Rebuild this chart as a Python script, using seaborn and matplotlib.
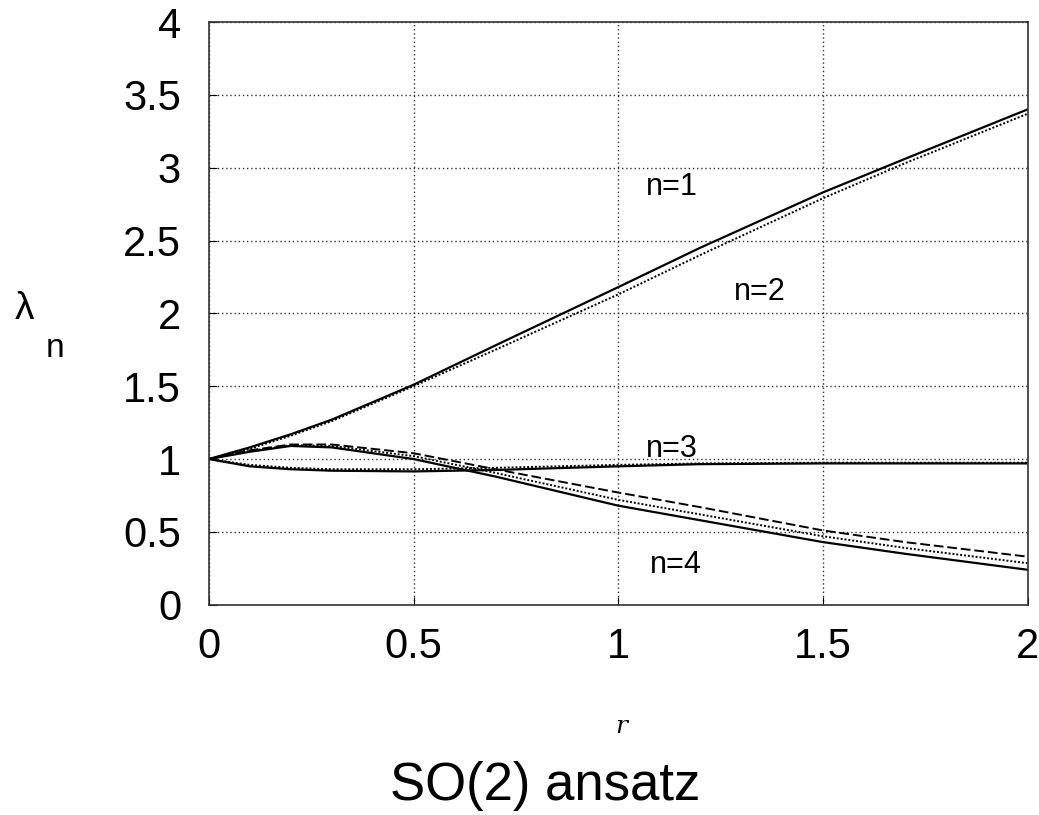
import matplotlib
matplotlib.use("Agg")
import matplotlib.pyplot as plt
import seaborn as sns
import pandas as pd

# values
r = [0, 0.1, 0.2, 0.3, 0.5, 0.7, 1.0, 1.2, 1.5, 1.7, 2.0]
lam_n1 = [1.0, 1.08, 1.17, 1.27, 1.51, 1.78, 2.18, 2.45, 2.83, 3.06, 3.40]
lam_n2 = [1.0, 1.07, 1.16, 1.26, 1.50, 1.75, 2.13, 2.40, 2.79, 3.03, 3.37]
lam_n3 = [1.0, 0.95, 0.93, 0.92, 0.915, 0.925, 0.95, 0.965, 0.97, 0.97, 0.97]
lam_n3b = [1.0, 0.96, 0.94, 0.93, 0.93, 0.94, 0.96, 0.97, 0.975, 0.975, 0.975]
lam_n4a = [1.0, 1.06, 1.10, 1.10, 1.04, 0.93, 0.77, 0.67, 0.51, 0.43, 0.33]
lam_n4b = [1.0, 1.05, 1.09, 1.08, 1.00, 0.88, 0.68, 0.58, 0.43, 0.35, 0.24]
lam_n4c = [1.0, 1.055, 1.095, 1.09, 1.02, 0.905, 0.72, 0.62, 0.47, 0.39, 0.285]

xticks = [0, 0.5, 1, 1.5, 2]
yticks = [0, 0.5, 1, 1.5, 2, 2.5, 3, 3.5, 4]
xtick_labels = ["0", "0.5", "1", "1.5", "2"]
ytick_labels = ["0", "0.5", "1", "1.5", "2", "2.5", "3", "3.5", "4"]

sns.set_style("ticks")
plt.rcParams["font.family"] = ["Liberation Sans", "DejaVu Sans"]
plt.rcParams["text.color"] = "black"

fig = plt.figure(figsize=(10.39, 8.15), dpi=100)
ax = fig.add_axes([0.201, 0.258, 0.788, 0.715])

series = [
    (lam_n1, "-", 1.6),
    (lam_n2, (0, (1, 1)), 1.4),
    (lam_n3, "-", 1.6),
    (lam_n3b, (0, (1, 1)), 1.4),
    (lam_n4a, (0, (5, 2)), 1.4),
    (lam_n4b, "-", 1.6),
    (lam_n4c, (0, (1, 1)), 1.4),
]
for vals, ls, lw in series:
    df = pd.DataFrame({"r": r, "lam": vals})
    sns.lineplot(data=df, x="r", y="lam", ax=ax, color="black",
                 linestyle=ls, linewidth=lw)

ax.set_xlim(0, 2)
ax.set_ylim(0, 4)
ax.set_xticks(xticks)
ax.set_xticklabels(xtick_labels)
ax.set_yticks(yticks)
ax.set_yticklabels(ytick_labels)
ax.tick_params(direction="in", length=6, labelsize=30, color="black",
               labelcolor="black")
ax.tick_params(axis="x", pad=16)
ax.tick_params(axis="y", pad=20)
ax.grid(True, color="0.2", linestyle=(0, (1, 2)), linewidth=1.0)
for s in ax.spines.values():
    s.set_color("0.2")
    s.set_linewidth(1.2)
ax.set_xlabel("")
ax.set_ylabel("")

ax.text(1.13, 2.87, "n=1", fontsize=22, ha="center", va="center")
ax.text(1.345, 2.15, "n=2", fontsize=22, ha="center", va="center")
ax.text(1.13, 1.07, "n=3", fontsize=22, ha="center", va="center")
ax.text(1.14, 0.27, "n=4", fontsize=22, ha="center", va="center")

fig.text(0.024, 0.621, "λ", fontsize=28, ha="center", va="center")
fig.text(0.053, 0.573, "n", fontsize=24, ha="center", va="center")
fig.text(0.598, 0.108, "r", fontsize=18, style="italic", family="DejaVu Serif",
         ha="center", va="center")
fig.text(0.525, 0.035, "SO(2) ansatz", fontsize=38, ha="center", va="center")

fig.savefig("out.png", dpi=100)
